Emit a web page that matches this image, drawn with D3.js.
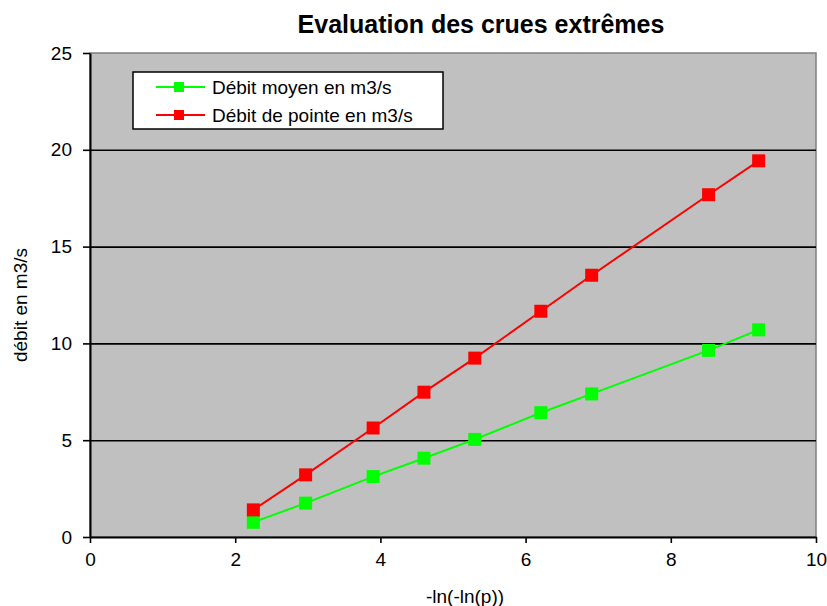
<!DOCTYPE html>
<html>
<head>
<meta charset="utf-8">
<script src="https://cdn.jsdelivr.net/npm/d3@7"></script>
<style>
  body { margin: 0; background: #fff; }
  svg text { font-family: "Liberation Sans", Arial, sans-serif; fill: #000; }
</style>
</head>
<body>
<div id="chart"></div>
<script>
// ============================================================
// Evaluation des crues extrêmes (Gumbel plot)
// ============================================================

// x = -ln(-ln(p)) for T = 10, 20, 50, 100, 200, 500, 1000, 5000, 10000 years
const gumbelX    = [2.25, 2.97, 3.90, 4.60, 5.30, 6.21, 6.91, 8.52, 9.21];
const debitMoyen = [0.76, 1.75, 3.12, 4.07, 5.04, 6.42, 7.39, 9.64, 10.7];
const debitPointe = [1.40, 3.21, 5.63, 7.48, 9.24, 11.66, 13.52, 17.68, 19.43];
const xTicks = [0, 2, 4, 6, 8, 10];
const yTicks = [0, 5, 10, 15, 20, 25];
const seriesNames = ["Débit moyen en m3/s", "Débit de pointe en m3/s"];

(function () {
  const W = 827, H = 606;
  const PLOT = { left: 90, right: 816, top: 53, bottom: 537 };
  const COLOURS = ["#00ff00", "#ff0000"];
  const FONT = 19;

  const svg = d3.select("#chart").append("svg")
    .attr("width", W).attr("height", H);

  const x = d3.scaleLinear().domain([0, 10]).range([PLOT.left, PLOT.right]);
  const y = d3.scaleLinear().domain([0, 25]).range([PLOT.bottom, PLOT.top]);

  // plot area background + gray frame
  svg.append("rect")
    .attr("x", PLOT.left).attr("y", PLOT.top)
    .attr("width", PLOT.right - PLOT.left).attr("height", PLOT.bottom - PLOT.top)
    .attr("fill", "#c0c0c0")
    .attr("stroke", "#808080").attr("stroke-width", 1.5);

  // gridlines
  svg.append("g")
    .attr("transform", `translate(${PLOT.left},0)`)
    .call(d3.axisLeft(y).tickValues(yTicks.filter(d => d > 0 && d < 25))
      .tickSize(-(PLOT.right - PLOT.left)).tickFormat(""))
    .call(g => g.select(".domain").remove())
    .call(g => g.selectAll("line").attr("stroke", "#000").attr("stroke-width", 1.6));

  // axes
  const yAxis = svg.append("g")
    .attr("transform", `translate(${PLOT.left},0)`)
    .call(d3.axisLeft(y).tickValues(yTicks).tickSize(7).tickPadding(11).tickSizeOuter(0));
  const xAxis = svg.append("g")
    .attr("transform", `translate(0,${PLOT.bottom})`)
    .call(d3.axisBottom(x).tickValues(xTicks).tickSize(6).tickPadding(10).tickSizeOuter(0));

  [xAxis, yAxis].forEach(a => {
    a.select(".domain").attr("stroke", "#000").attr("stroke-width", 2);
    a.selectAll(".tick line").attr("stroke", "#000").attr("stroke-width", 1.6);
    a.selectAll(".tick text").attr("font-size", FONT).attr("fill", "#000")
      .style("font-family", "'Liberation Sans', Arial, sans-serif");
  });

  // series
  const series = [debitMoyen, debitPointe].map((vals, i) => ({
    name: seriesNames[i],
    colour: COLOURS[i],
    pts: vals.map((v, j) => ({ x: gumbelX[j], y: v }))
  }));

  const line = d3.line().x(d => x(d.x)).y(d => y(d.y));
  const MS = 13;

  series.forEach(s => {
    svg.append("path")
      .datum(s.pts)
      .attr("d", line)
      .attr("fill", "none")
      .attr("stroke", s.colour)
      .attr("stroke-width", 2);

    svg.append("g").selectAll("rect")
      .data(s.pts).join("rect")
      .attr("x", d => x(d.x) - MS / 2)
      .attr("y", d => y(d.y) - MS / 2)
      .attr("width", MS).attr("height", MS)
      .attr("fill", s.colour);
  });

  // legend
  const legend = svg.append("g").attr("transform", "translate(133,72)");
  legend.append("rect")
    .attr("width", 310).attr("height", 57)
    .attr("fill", "#fff").attr("stroke", "#000").attr("stroke-width", 1.5);

  series.forEach((s, i) => {
    const row = legend.append("g").attr("transform", `translate(0,${15 + i * 28})`);
    row.append("line")
      .attr("x1", 23).attr("x2", 72)
      .attr("stroke", s.colour).attr("stroke-width", 2);
    row.append("rect")
      .attr("x", 41).attr("y", -5).attr("width", 10).attr("height", 10)
      .attr("fill", s.colour);
    row.append("text")
      .attr("x", 79).attr("y", 7)
      .attr("font-size", FONT)
      .text(s.name);
  });

  // title
  svg.append("text")
    .attr("x", 481).attr("y", 33)
    .attr("text-anchor", "middle")
    .attr("font-size", 25).attr("font-weight", "bold")
    .text("Evaluation des crues extrêmes");

  // axis titles
  svg.append("text")
    .attr("x", 465).attr("y", 603)
    .attr("text-anchor", "middle")
    .attr("font-size", FONT)
    .text("-ln(-ln(p))");

  svg.append("text")
    .attr("transform", "translate(27,305) rotate(-90)")
    .attr("text-anchor", "middle")
    .attr("font-size", FONT)
    .text("débit en m3/s");
})();
</script>
</body>
</html>
